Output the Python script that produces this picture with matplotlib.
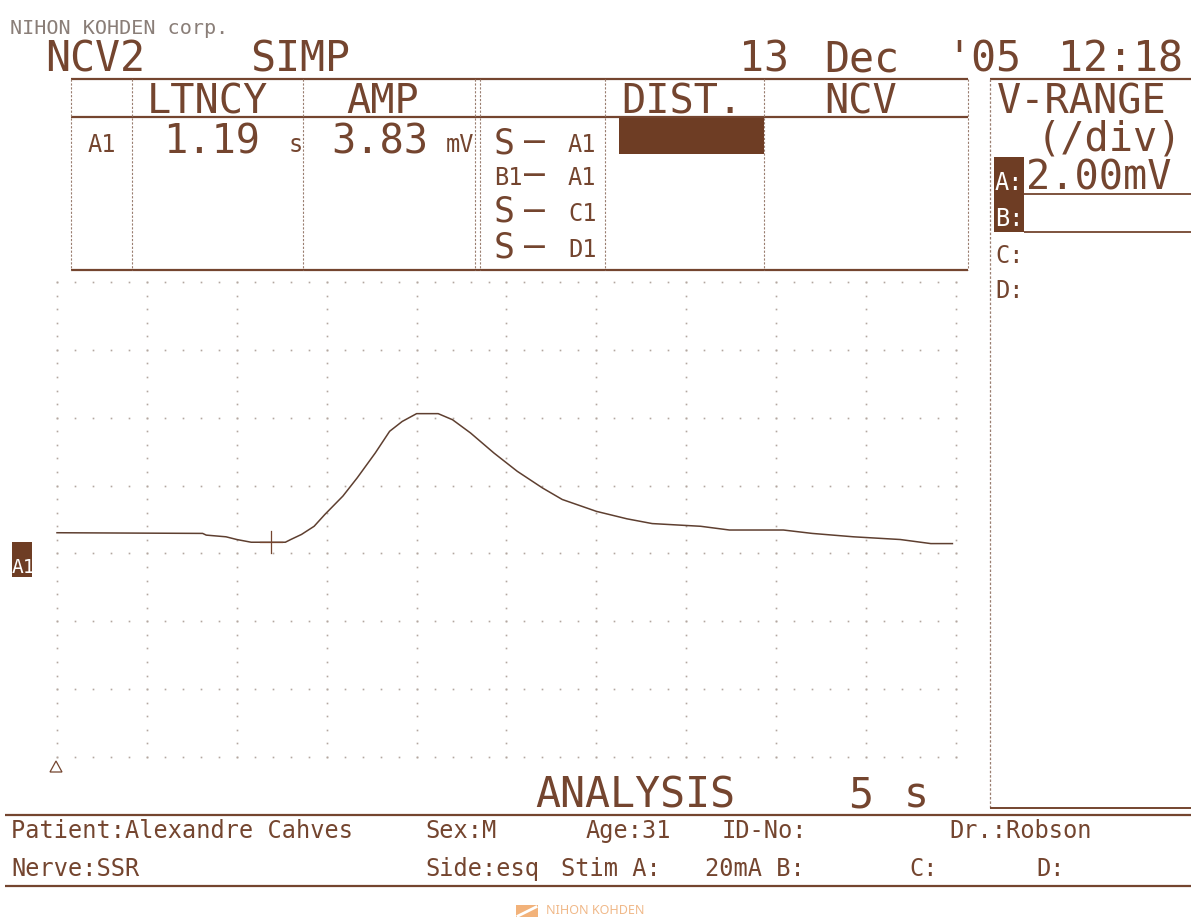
import numpy as np
import matplotlib
matplotlib.use("Agg")
import matplotlib.pyplot as plt
from matplotlib.patches import Rectangle, Polygon

# ---------------- data ----------------
time_s = [0.00, 0.81, 0.83, 0.94, 1.00, 1.08, 1.27, 1.30, 1.36, 1.43, 1.49,
          1.59, 1.67, 1.77, 1.85, 1.92, 2.00, 2.12, 2.20, 2.30, 2.43, 2.56,
          2.70, 2.81, 3.00, 3.17, 3.31, 3.58, 3.74, 4.04, 4.20, 4.43, 4.69,
          4.86, 4.98]
voltage_mV = [0.61, 0.59, 0.54, 0.49, 0.41, 0.33, 0.33, 0.41, 0.56, 0.80, 1.15,
              1.69, 2.23, 2.96, 3.60, 3.89, 4.12, 4.12, 3.94, 3.55, 2.96, 2.42,
              1.93, 1.59, 1.24, 1.02, 0.88, 0.80, 0.69, 0.69, 0.59, 0.49, 0.41,
              0.29, 0.29]
latency_s = 1.19
latency_level_mV = 0.33
latency_label = "1.19"
amplitude_label = "3.83"
sweep_s = 5.0
div_s = 0.5
vrange_mV = 2.0
y_low, y_high = -6.0, 8.0
header_cols = ["LTNCY", "AMP", "DIST.", "NCV"]
row_prefix = ["S", "B1", "S", "S"]
row_suffix = ["A1", "A1", "C1", "D1"]

INK = "#74452f"
FILL = "#6e3d24"
GRIDC = "#b3a79f"
MONO = "DejaVu Sans Mono"

W, H = 1191, 917
fig = plt.figure(figsize=(W / 100, H / 100), dpi=100)
fig.patch.set_facecolor("white")

# ---------------- waveform axes ----------------
L, R, TOP, BOT = 57, 956, 282, 757
ax = fig.add_axes([L / W, 1 - BOT / H, (R - L) / W, (BOT - TOP) / H])
ax.set_xlim(0, sweep_s)
ax.set_ylim(y_low, y_high)
ax.axis("off")

# dotted grid: 5 dots per division
for xv in np.arange(0, sweep_s + 1e-9, div_s):
    ys = np.arange(y_low, y_high + 1e-9, vrange_mV / 5)
    ax.plot(np.full_like(ys, xv), ys, ls="none", marker="s", ms=1.2,
            mec="none", mfc=GRIDC, clip_on=False)
for yv in np.arange(y_low, y_high + 1e-9, vrange_mV):
    xs = np.arange(0, sweep_s + 1e-9, div_s / 5)
    ax.plot(xs, np.full_like(xs, yv), ls="none", marker="s", ms=1.2,
            mec="none", mfc=GRIDC, clip_on=False)

ax.plot(time_s, voltage_mV, color="#5e3f30", lw=1.1, clip_on=False)
# latency cursor
ax.plot([latency_s, latency_s], [latency_level_mV - 0.33, latency_level_mV + 0.33],
        color=INK, lw=0.9)
ax.plot([latency_s - 0.06, latency_s + 0.06], [latency_level_mV, latency_level_mV],
        color=INK, lw=0.9)

# ---------------- overlay for the printout ----------------
ov = fig.add_axes([0, 0, 1, 1])
ov.set_xlim(0, W)
ov.set_ylim(H, 0)
ov.axis("off")
ov.patch.set_alpha(0)


def T(x, y, s, size, color=INK, **kw):
    ov.text(x, y, s, fontsize=size, family=MONO, color=color,
            va="baseline", ha="left", **kw)


def hline(x0, x1, y, lw=1.6, color=INK, ls="-"):
    ov.plot([x0, x1], [y, y], color=color, lw=lw, ls=ls, solid_capstyle="butt")


def vline(x, y0, y1, lw=0.8, color="#9a7e70", ls=(0, (2, 1.5))):
    ov.plot([x, x], [y0, y1], color=color, lw=lw, ls=ls)


BIG = 29
SMALL = 17

T(10, 34, "NIHON KOHDEN corp.", 14.5, color="#8a7e78")
T(45, 72, "NCV2", 30)
T(250, 72, "SIMP", 30)
T(739, 72, "13", 30)
T(824, 72, "Dec", 30)
T(946, 72, "'05", 30)
T(1058, 72, "12:18", 30)

# table
hline(71, 968, 79)
hline(71, 968, 117)
hline(71, 968, 270)
for xv in [71, 132, 303, 475, 480, 605, 764, 968]:
    vline(xv, 79, 270)

T(147, 113, header_cols[0], BIG)
T(346, 113, header_cols[1], BIG)
T(621, 113, header_cols[2], BIG)
T(824, 113, header_cols[3], BIG)

T(88, 152, "A1", SMALL)
T(163, 153, latency_label, BIG)
T(289, 152, "s", SMALL)
T(331, 153, amplitude_label, BIG)
T(446, 152, "mV", SMALL)

ov.add_patch(Rectangle((619, 117), 145, 37, color=FILL, lw=0))

row_base = [153, 186, 222, 258]
for pre, suf, yb in zip(row_prefix, row_suffix, row_base):
    if pre == "S":
        T(494, yb, "S", 25)
    else:
        T(494, yb - 1, pre, SMALL)
    T(524, yb - 1, "\u2013", 25)
    T(568, yb - 1, suf, SMALL)

# right panel
hline(990, W, 79)
vline(990, 79, 808, lw=0.9)
hline(990, W, 808, lw=1.4)
T(997, 113, "V-RANGE", BIG)
T(1037, 150, "(/div)", BIG)
ov.add_patch(Rectangle((994, 157), 30, 38, color=FILL, lw=0))
T(995, 190, "A:", SMALL, color="white")
T(1026, 190, "2.00mV", BIG)
hline(1024, W, 194, lw=1.3)
ov.add_patch(Rectangle((994, 195), 30, 37, color=FILL, lw=0))
T(995, 226, "B:", SMALL, color="white")
hline(1024, W, 232, lw=1.3)
T(995, 263, "C:", SMALL)
T(995, 298, "D:", SMALL)

# trace label and marker
ov.add_patch(Rectangle((12, 542), 20, 35, color=FILL, lw=0))
T(12, 573, "A1", 14, color="white")
ov.add_patch(Polygon([[50, 772], [62, 772], [56, 761]], closed=True,
                     facecolor="white", edgecolor=INK, lw=0.9))

T(535, 807, "ANALYSIS", 30)
T(848, 807, "5", 30)
T(904, 807, "s", 30)

# footer
hline(5, W, 815, lw=1.6)
hline(5, W, 886, lw=1.6)
T(11, 838, "Patient:Alexandre Cahves", SMALL)
T(425, 838, "Sex:M", SMALL)
T(586, 838, "Age:31", SMALL)
T(722, 838, "ID-No:", SMALL)
T(949, 838, "Dr.:Robson", SMALL)
T(11, 876, "Nerve:SSR", SMALL)
T(425, 876, "Side:esq", SMALL)
T(561, 876, "Stim A:", SMALL)
T(705, 876, "20mA B:", SMALL)
T(909, 876, "C:", SMALL)
T(1036, 876, "D:", SMALL)

# logo at the bottom edge
ov.add_patch(Rectangle((516, 905), 22, 12, color="#f2b27a", lw=0))
ov.plot([518, 536], [916, 907], color="white", lw=2)
ov.text(546, 914, "NIHON KOHDEN", fontsize=9, family="Noto Sans",
        color="#f0b888", va="baseline", ha="left")

fig.savefig("out.png", dpi=100, facecolor="white")
